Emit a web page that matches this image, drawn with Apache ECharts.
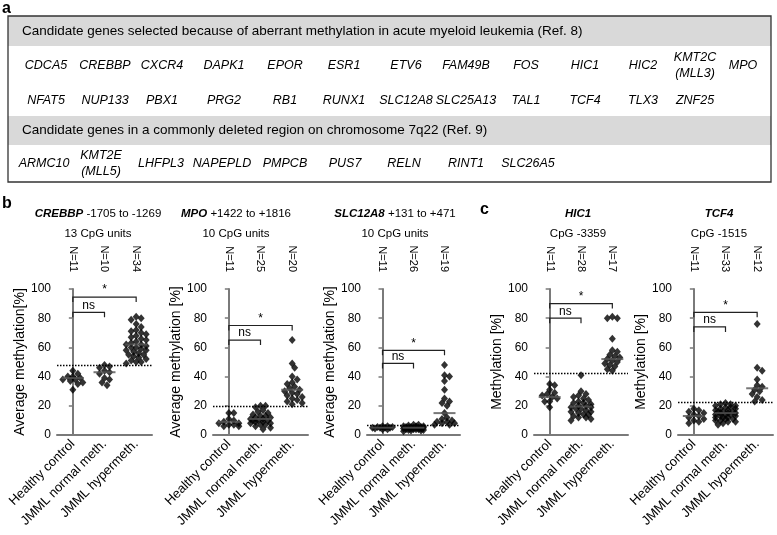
<!DOCTYPE html>
<html><head><meta charset="utf-8">
<script src="https://cdn.jsdelivr.net/npm/echarts@6/dist/echarts.min.js"></script>
<style>html,body{margin:0;padding:0;background:#fff}#c{width:777px;height:535px}</style>
</head><body><div id="c"></div>
<script>
// ---------- data ----------
const groups = ['Healthy control', 'JMML normal meth.', 'JMML hypermeth.'];

const header1 = 'Candidate genes selected because of aberrant methylation in acute myeloid leukemia (Ref. 8)';
const header2 = 'Candidate genes in a commonly deleted region on chromosome 7q22 (Ref. 9)';
const genesRow1 = ['CDCA5','CREBBP','CXCR4','DAPK1','EPOR','ESR1','ETV6','FAM49B','FOS','HIC1','HIC2','KMT2C\n(MLL3)','MPO'];
const genesRow2 = ['NFAT5','NUP133','PBX1','PRG2','RB1','RUNX1','SLC12A8','SLC25A13','TAL1','TCF4','TLX3','ZNF25'];
const genesRow3 = ['ARMC10','KMT2E\n(MLL5)','LHFPL3','NAPEPLD','PMPCB','PUS7','RELN','RINT1','SLC26A5'];

const crebbpHealthy = [31, 35, 36, 37, 38, 38, 39, 40, 40, 42, 44];
const crebbpNormal  = [34, 36, 38, 39, 42, 43, 44, 46, 47, 48];
const crebbpHyper   = [49, 50, 50, 51, 52, 53, 54, 55, 55, 56, 57, 58, 58, 59, 60, 60, 61, 62, 62, 63, 64, 65, 66, 67, 68, 69, 70, 71, 72, 74, 76, 79, 80, 81];
const crebbpN = ['N=11', 'N=10', 'N=34'];
const crebbpCenter = [39, 43, 62];
const crebbpThreshold = 48;
const crebbpBrackets = [[0, 2, 94.5], [0, 1, 84]];

const mpoHealthy = [6, 6, 7, 7, 8, 8, 9, 10, 11, 15, 15];
const mpoNormal  = [4, 5, 6, 7, 7, 8, 8, 9, 9, 10, 10, 10, 11, 11, 12, 12, 13, 13, 14, 15, 16, 17, 19, 20, 20];
const mpoHyper   = [65, 49, 46, 40, 38, 36, 35, 33, 32, 31, 30, 29, 28, 27, 26, 25, 24, 23, 22, 21];
const mpoN = ['N=11', 'N=25', 'N=20'];
const mpoCenter = [9, 11, 31];
const mpoThreshold = 20;
const mpoBrackets = [[0, 2, 75], [0, 1, 65]];

const slcHealthy = [4, 4, 4.5, 5, 5, 5, 5, 5.5, 5.5, 6, 6];
const slcNormal  = [2.5, 3, 3, 3.5, 3.5, 4, 4, 4, 4, 4.5, 4.5, 4.5, 5, 5, 5, 5, 5, 5.5, 5.5, 5.5, 6, 6, 6, 6.5, 7, 7];
const slcHyper   = [48, 41, 40, 37, 31, 25, 23, 22, 20, 15, 12, 11, 10, 9, 9, 8, 8, 7, 7];
const slcN = ['N=11', 'N=26', 'N=19'];
const slcCenter = [5, 5, 15];
const slcThreshold = 7;
const slcBrackets = [[0, 2, 58], [0, 1, 49]];

const hicHealthy = [35, 34, 31, 29, 28, 27, 26, 25, 23, 23, 19];
const hicNormal  = [41, 30, 28, 27, 26, 25, 24, 23, 22, 22, 21, 20, 20, 19, 19, 18, 18, 17, 16, 16, 15, 14, 14, 13, 12, 12, 11, 10];
const hicHyper   = [81, 80, 80, 66, 58, 57, 55, 54, 53, 52, 51, 50, 49, 48, 47, 45, 44];
const hicN = ['N=11', 'N=28', 'N=17'];
const hicCenter = [26, 19.5, 52];
const hicThreshold = 42;
const hicBrackets = [[0, 2, 90], [0, 1, 80]];

const tcfHealthy = [18, 17, 16, 15, 14, 13, 12, 11, 10, 9, 8];
const tcfNormal  = [22, 21, 21, 20, 20, 19, 19, 18, 18, 17, 17, 16, 16, 16, 15, 15, 15, 14, 14, 14, 13, 13, 12, 12, 12, 11, 11, 10, 10, 9, 9, 8, 7];
const tcfHyper   = [76, 46, 44, 38, 34, 33, 31, 30, 28, 26, 24, 23];
const tcfN = ['N=11', 'N=33', 'N=12'];
const tcfCenter = [13, 15, 32];
const tcfThreshold = 22.5;
const tcfBrackets = [[0, 2, 84], [0, 1, 74]];

const bracketLabels = ['*', 'ns'];

// ---------- layout ----------
const FONT = '"Liberation Sans", Arial, Helvetica, sans-serif';
const GRID_TOP = 289, GRID_H = 146;
const row1X = [46, 105, 162, 224, 285, 344, 406, 466, 526, 585, 643, 695, 743];
const row3X = [44, 101, 161, 222, 285, 345, 404, 466, 528];

const panels = [
  {gene:'CREBBP', rest:' -1705 to -1269', sub:'13 CpG units', yName:'Average methylation[%]',
   vals:[crebbpHealthy, crebbpNormal, crebbpHyper], n:crebbpN, center:crebbpCenter, thr:crebbpThreshold, br:crebbpBrackets,
   left:57, width:95, titleX:98, gap:27},
  {gene:'MPO', rest:' +1422 to +1816', sub:'10 CpG units', yName:'Average methylation [%]',
   vals:[mpoHealthy, mpoNormal, mpoHyper], n:mpoN, center:mpoCenter, thr:mpoThreshold, br:mpoBrackets,
   left:213, width:95, titleX:236, gap:26},
  {gene:'SLC12A8', rest:' +131 to +471', sub:'10 CpG units', yName:'Average methylation [%]',
   vals:[slcHealthy, slcNormal, slcHyper], n:slcN, center:slcCenter, thr:slcThreshold, br:slcBrackets,
   left:367, width:93, titleX:395, gap:26},
  {gene:'HIC1', rest:'', sub:'CpG -3359', yName:'Methylation [%]',
   vals:[hicHealthy, hicNormal, hicHyper], n:hicN, center:hicCenter, thr:hicThreshold, br:hicBrackets,
   left:534, width:94, titleX:578, gap:26},
  {gene:'TCF4', rest:'', sub:'CpG -1515', yName:'Methylation [%]',
   vals:[tcfHealthy, tcfNormal, tcfHyper], n:tcfN, center:tcfCenter, thr:tcfThreshold, br:tcfBrackets,
   left:678, width:95, titleX:719, gap:26}
];

// compact beeswarm-style horizontal spreading (pixel offsets), GraphPad-like
function swarm(vals) {
  const pxPerUnit = GRID_H / 100, minD = 4.6, step = 2.5, maxOff = 12;
  const order = vals.map((v, i) => i).sort((i, j) => vals[j] - vals[i]);
  const placed = [], offs = new Array(vals.length).fill(0);
  for (const i of order) {
    const y = vals[i] * pxPerUnit;
    let best = null, bestScore = -1;
    for (let k = 0; k < 20; k++) {
      const c = k === 0 ? 0 : (k % 2 ? 1 : -1) * Math.ceil(k / 2) * step;
      if (Math.abs(c) > maxOff) break;
      const d = placed.length ? Math.min(...placed.map(p => Math.hypot(p.x - c, p.y - y))) : 99;
      if (d >= minD) { best = c; break; }
      if (d > bestScore) { bestScore = d; best = c; }
    }
    placed.push({x: best, y: y}); offs[i] = best;
  }
  return offs;
}

const grid = [], xAxis = [], yAxis = [], series = [], graphic = [];
const axisGray = '#7a7a7a';

panels.forEach((p, pi) => {
  grid.push({left: p.left, top: GRID_TOP, width: p.width, height: GRID_H});
  const band = p.width / 3;
  xAxis.push({
    type: 'category', gridIndex: pi, data: groups, position: 'bottom',
    axisLine: {lineStyle: {color: axisGray, width: 2}},
    axisTick: {alignWithLabel: true, length: 5, lineStyle: {color: axisGray, width: 1.5}},
    axisLabel: {rotate: 45, color: '#000', fontSize: 13, fontFamily: FONT, margin: 7, interval: 0}
  });
  xAxis.push({
    type: 'category', gridIndex: pi, data: p.n, position: 'top',
    axisLine: {show: false}, axisTick: {show: false},
    axisLabel: {rotate: 90, color: '#000', fontSize: 11, fontFamily: FONT, margin: 17, interval: 0}
  });
  xAxis.push({type: 'value', gridIndex: pi, min: -0.5, max: 2.5, show: false});
  yAxis.push({
    type: 'value', gridIndex: pi, min: 0, max: 100, interval: 20,
    name: p.yName, nameLocation: 'middle', nameGap: p.gap,
    nameTextStyle: {fontSize: 14, color: '#000', fontFamily: FONT},
    axisLine: {show: true, lineStyle: {color: axisGray, width: 2}},
    axisTick: {show: true, length: 4, lineStyle: {color: axisGray, width: 1.5}},
    axisLabel: {color: '#000', fontSize: 12, fontFamily: FONT, margin: 6},
    splitLine: {show: false}
  });
  const xi = pi * 3 + 2;
  const pts = [];
  p.vals.forEach((arr, g) => {
    const offs = swarm(arr);
    arr.forEach((v, k) => pts.push([g + offs[k] / band, v]));
  });
  series.push({
    type: 'scatter', xAxisIndex: xi, yAxisIndex: pi, data: pts,
    symbol: 'diamond', symbolSize: [7, 8], itemStyle: {color: '#000'}, z: 3, silent: true
  });
  series.push({
    type: 'scatter', xAxisIndex: xi, yAxisIndex: pi,
    data: p.center.map((v, g) => [g, v]),
    symbol: 'rect', symbolSize: [22, 2], itemStyle: {color: '#555'}, z: 4, silent: true,
    markLine: {silent: true, symbol: 'none', label: {show: false},
      lineStyle: {type: [1.5, 1.5], color: '#000', width: 1.3},
      data: [{yAxis: p.thr}]}
  });
  series.push({
    type: 'custom', xAxisIndex: xi, yAxisIndex: pi, data: p.br, z: 5, silent: true,
    encode: {x: [0, 1], y: 2},
    renderItem: (params, api) => {
      const a = api.value(0), b = api.value(1), v = api.value(2);
      const p1 = api.coord([a, v]), p2 = api.coord([b, v]);
      return {type: 'group', children: [
        {type: 'polyline', shape: {points: [[p1[0], p1[1] + 5], [p1[0], p1[1]], [p2[0], p2[1]], [p2[0], p2[1] + 5]]},
         style: {stroke: '#222', lineWidth: 1.2, fill: null}},
        {type: 'text', style: {text: bracketLabels[params.dataIndex], x: (p1[0] + p2[0]) / 2, y: p1[1] - 1,
          align: 'center', verticalAlign: 'bottom', fontSize: 12, fontFamily: FONT, fill: '#000'}}
      ]};
    }
  });
  // titles
  graphic.push({type: 'text', style: {
    text: '{g|' + p.gene + '}' + p.rest, rich: {g: {fontWeight: 'bold', fontStyle: 'italic', fontSize: 11.5, fontFamily: FONT, fill: '#000'}},
    x: p.titleX, y: 214, align: 'center', verticalAlign: 'middle', fontSize: 11.5, fontFamily: FONT, fill: '#000'}});
  graphic.push({type: 'text', style: {text: p.sub, x: p.titleX, y: 234, align: 'center', verticalAlign: 'middle',
    fontSize: 11.5, fontFamily: FONT, fill: '#000'}});
});

// panel letters
[['a', 2, 9], ['b', 2, 204], ['c', 480, 210]].forEach(([t, x, y]) => graphic.push({type: 'text',
  style: {text: t, x: x, y: y, verticalAlign: 'middle', fontSize: 16, fontWeight: 'bold', fontFamily: FONT, fill: '#000'}}));

// table
const TB = {x: 8, y: 16, w: 763, h: 166};
graphic.push({type: 'rect', shape: {x: TB.x, y: TB.y, width: TB.w, height: 30}, style: {fill: '#d9d9d9'}});
graphic.push({type: 'rect', shape: {x: TB.x, y: 116, width: TB.w, height: 29}, style: {fill: '#d9d9d9'}});
graphic.push({type: 'rect', shape: {x: TB.x, y: TB.y, width: TB.w, height: TB.h}, style: {fill: 'none', stroke: '#333', lineWidth: 1.3}});
graphic.push({type: 'text', style: {text: header1, x: 22, y: 31, verticalAlign: 'middle', fontSize: 13.5, fontFamily: FONT, fill: '#000'}});
graphic.push({type: 'text', style: {text: header2, x: 22, y: 130.5, verticalAlign: 'middle', fontSize: 13.5, fontFamily: FONT, fill: '#000'}});
function geneRow(list, xs, y) {
  list.forEach((g, i) => graphic.push({type: 'text', style: {text: g, x: xs[i], y: y, align: 'center', verticalAlign: 'middle',
    fontSize: 12.5, fontStyle: 'italic', fontFamily: FONT, fill: '#000', lineHeight: 16}}));
}
geneRow(genesRow1, row1X, 66);
geneRow(genesRow2, row1X, 101);
geneRow(genesRow3, row3X, 164);

const chart = echarts.init(document.getElementById('c'), null, {renderer: 'canvas'});
chart.setOption({animation: false, backgroundColor: '#fff', grid, xAxis, yAxis, series, graphic});
</script></body></html>
